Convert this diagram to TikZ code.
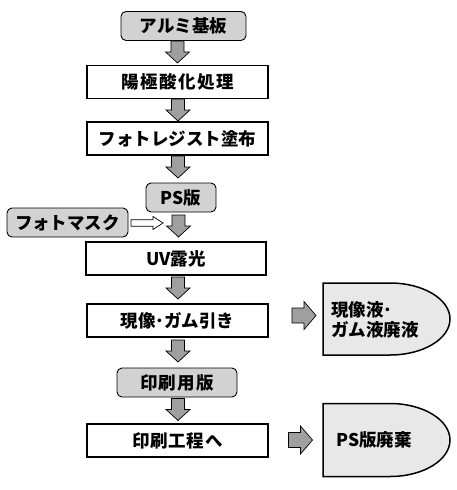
\documentclass[tikz,border=0pt]{standalone}
\usepackage{fontspec}
\setmainfont{Noto Sans CJK JP}
\usetikzlibrary{positioning, calc}

\tikzset{
  stepbox/.style={draw, line width=1.6pt, minimum width=181pt, minimum height=33pt, inner sep=0pt},
  matbox/.style={draw, rounded corners=5pt, fill=gray!35, line width=0.9pt, minimum height=29pt, inner sep=0pt},
  wastebox/.style={draw, line width=1.5pt, fill=gray!18},
  arrowline/.style={draw, fill=gray!75, line width=0.7pt, line join=miter},
  pics/downarrow/.style={code={
    \path[arrowline] (-6.5,-11) -- (6.5,-11) -- (6.5,0) -- (12,0) -- (0,11) -- (-12,0) -- (-6.5,0) -- cycle;}},
  pics/rightarrow/.style={code={
    \path[arrowline] (-12,-7.5) -- (0,-7.5) -- (0,-14) -- (12,0) -- (0,14) -- (0,7.5) -- (-12,7.5) -- cycle;}},
  pics/maskarrow/.style={code={
    \path[arrowline, fill=white] (-16,-3.2) -- (6,-3.2) -- (6,-6.5) -- (16,0) -- (6,6.5) -- (6,3.2) -- (-16,3.2) -- cycle;}}
}

\begin{document}
\begin{tikzpicture}[x=1pt, y=-1pt, font=\bfseries\fontsize{17.5}{20}\selectfont]
  \useasboundingbox (0,0) rectangle (456,490);

  % main flow
  \node[matbox, minimum width=125pt] (alu) at (183.5,26) {アルミ基板};
  \node[stepbox] (anod) at (177.5,82) {\addfontfeature{LetterSpace=9}陽極酸化処理};
  \node[stepbox] (resist) at (177.5,138.5) {フォトレジスト塗布};
  \node[matbox, minimum width=70pt] (ps) at (181,197.5) {PS版};
  \node[matbox, minimum width=121pt] (mask) at (67.5,222.5) {フォトマスク};
  \node[stepbox, minimum width=180pt] (uv) at (176,258.5) {UV露光};
  \node[stepbox] (dev) at (177.5,320.5) {現像･ガム引き};
  \node[matbox, minimum width=120pt] (plate) at (177,382.5) {\addfontfeature{LetterSpace=6}印刷用版};
  \node[stepbox] (print) at (177.5,440.5) {\addfontfeature{LetterSpace=4}印刷工程へ};

  % waste
  \draw[wastebox] (323,283) -- (390,283) arc[start angle=-90, end angle=90, x radius=60, y radius=36] -- (323,355) -- cycle;
  \node[align=left, inner sep=0pt] (waste1) at (375,320) {現像液･\\ガム液廃液};
  \draw[wastebox] (323,403.5) -- (390,403.5) arc[start angle=-90, end angle=90, x radius=60, y radius=36.5] -- (323,476.5) -- cycle;
  \node[inner sep=0pt] (waste2) at (374,440) {PS版廃棄};

  % arrows
  \pic at (177.5,52) {downarrow};
  \pic at (178,110) {downarrow};
  \pic at (178,167) {downarrow};
  \pic at (178.5,226) {downarrow};
  \pic at (178,288) {downarrow};
  \pic at (178,351) {downarrow};
  \pic at (178,409.5) {downarrow};
  \pic at (304,315.5) {rightarrow};
  \pic at (300.5,440) {rightarrow};
  \pic at (147,223) {maskarrow};

\end{tikzpicture}
\end{document}
